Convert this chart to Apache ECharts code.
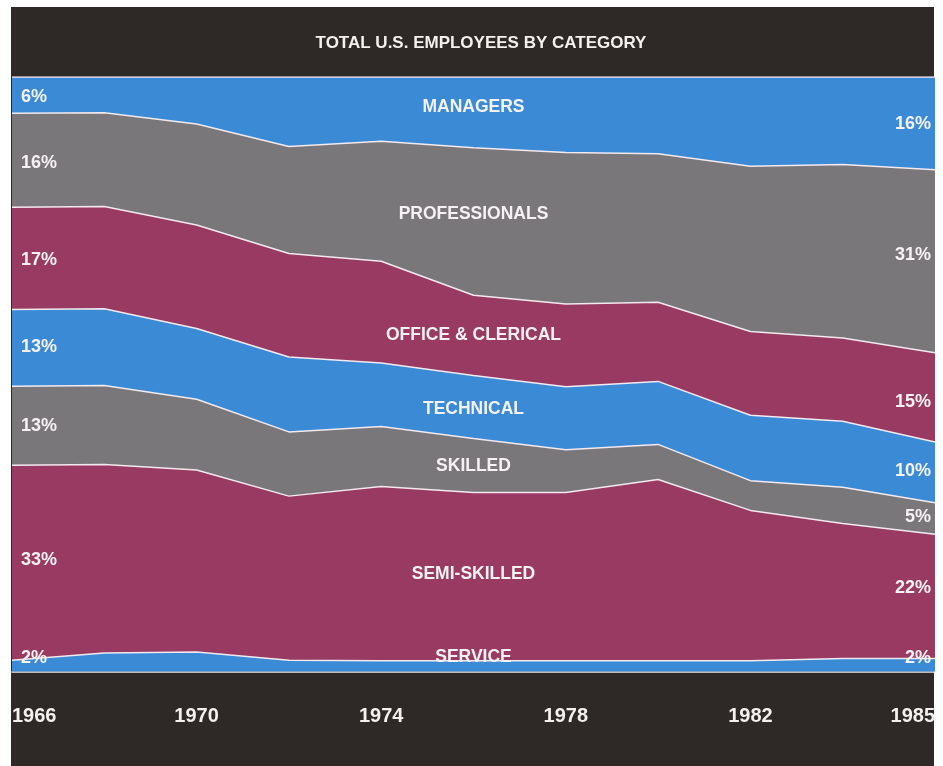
<!DOCTYPE html>
<html>
<head>
<meta charset="utf-8">
<script src="https://cdn.jsdelivr.net/npm/echarts@6/dist/echarts.min.js"></script>
<style>
html,body{margin:0;padding:0;background:#ffffff;}
#chart{width:943px;height:766px;}
</style>
</head>
<body>
<div id="chart"></div>
<script>
// ---- data (percent of total U.S. employees), bottom band first ----
const years = ['1966','1968','1970','1972','1974','1976','1978','1980','1982','1984','1985'];
const service       = [1.9, 3.1, 3.3, 1.9, 1.8, 1.8, 1.8, 1.8, 1.8, 2.2, 2.2];
const semiSkilled   = [32.8,31.7,30.6,27.6,29.3,28.3,28.3,30.5,25.3,22.7,20.9];
const skilled       = [13.3,13.3,11.9,10.8,10.1, 9.1, 7.2, 5.9, 5.0, 6.1, 5.3];
const technical     = [12.9,12.9,11.9,12.6,10.7,10.6,10.6,10.6,11.0,11.1,10.2];
const office        = [17.2,17.2,17.4,17.4,17.1,13.5,13.9,13.3,14.1,14.0,15.0];
const professionals = [15.8,15.8,17.0,18.0,20.2,24.8,25.5,25.0,27.8,29.2,30.8];
const managers      = [6.1, 6.0, 7.9,11.7,10.8,11.9,12.7,12.9,15.0,14.7,15.6];

const categories  = ['SERVICE','SEMI-SKILLED','SKILLED','TECHNICAL','OFFICE & CLERICAL','PROFESSIONALS','MANAGERS'];
const leftLabels  = ['2%','33%','13%','13%','17%','16%','6%'];
const rightLabels = ['2%','22%','5%','10%','15%','31%','16%'];
const title = 'TOTAL U.S. EMPLOYEES BY CATEGORY';

// ---- styling ----
const BLUE = '#3a8ad6', GRAY = '#79777a', MAROON = '#983a62', DARK = '#2e2927';
const bandColors = [BLUE, MAROON, GRAY, BLUE, MAROON, GRAY, BLUE];
const seriesData = [service, semiSkilled, skilled, technical, office, professionals, managers];
const FONT = '"Liberation Sans", Arial, sans-serif';
const LINE = '#f3eaf0';
// small vertical nudges for label placement (style only)
const leftNudge  = [-8, -3, 0, -1, 2, 3, 2];
const midNudge   = [-9, -3, 1, 2, 0, -7, -5];
const rightNudge = [-7, -8, -1, -1, 5, -6, 1];
const MID = 5;

const chart = echarts.init(document.getElementById('chart'));
const option = {
  backgroundColor: '#ffffff',
  animation: false,
  title: {
    text: title, left: 476, top: 28, textAlign: 'center',
    textStyle: {color: '#f4f0ee', fontFamily: FONT, fontWeight: 'bold', fontSize: 17, lineHeight: 20}
  },
  grid: {left: 12, right: 8, top: 77, bottom: 94.5, containLabel: false},
  xAxis: {
    type: 'category', data: years, boundaryGap: false,
    axisLine: {show: true, lineStyle: {color: LINE, width: 1.5}},
    axisTick: {show: false},
    splitLine: {show: false},
    axisLabel: {
      interval: 1, color: '#f4f0ee', fontFamily: FONT, fontWeight: 'bold', fontSize: 20,
      lineHeight: 20, margin: 35, alignMinLabel: 'left', alignMaxLabel: 'right'
    }
  },
  yAxis: {type: 'value', min: 0, max: 100, show: false, splitLine: {show: false}},
  graphic: [{
    type: 'rect', z: -10, silent: true,
    shape: {x: 11, y: 7, width: 923, height: 759},
    style: {fill: DARK}
  }],
  series: categories.map((name, k) => ({
    name: name, type: 'line', stack: 'total', data: seriesData[k],
    symbol: 'none', z: 20 - k,
    lineStyle: {color: LINE, width: 1.5},
    areaStyle: {color: bandColors[k], opacity: 1}
  }))
};
chart.setOption(option);

// ---- band labels placed via the chart's own scales ----
function mid(k, i) {
  let below = 0;
  for (let j = 0; j < k; j++) below += seriesData[j][i];
  return below + seriesData[k][i] / 2;
}
const last = years.length - 1;
const texts = [];
const txtStyle = (t, align, size) => ({
  text: t, fill: '#f6f1f3', font: 'bold ' + size + 'px ' + FONT,
  textAlign: align, textVerticalAlign: 'middle'
});
categories.forEach((name, k) => {
  const pL = chart.convertToPixel({xAxisIndex: 0, yAxisIndex: 0}, [0, mid(k, 0)]);
  const pM = chart.convertToPixel({xAxisIndex: 0, yAxisIndex: 0}, [MID, mid(k, MID)]);
  const pR = chart.convertToPixel({xAxisIndex: 0, yAxisIndex: 0}, [last, mid(k, last)]);
  texts.push({type: 'text', z: 100, silent: true, x: pL[0] + 9, y: pL[1] + leftNudge[k], style: txtStyle(leftLabels[k], 'left', 18)});
  texts.push({type: 'text', z: 100, silent: true, x: pM[0], y: pM[1] + midNudge[k], style: txtStyle(name, 'center', 17.5)});
  texts.push({type: 'text', z: 100, silent: true, x: pR[0] - 4, y: pR[1] + rightNudge[k], style: txtStyle(rightLabels[k], 'right', 18)});
});
chart.setOption({graphic: option.graphic.concat(texts)});
</script>
</body>
</html>
